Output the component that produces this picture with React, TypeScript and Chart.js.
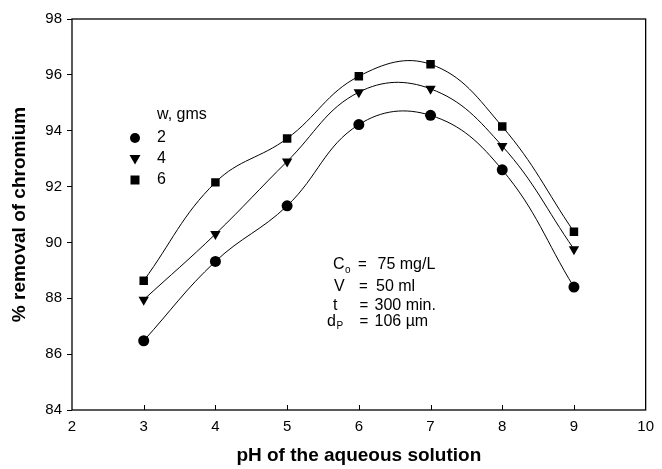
import React, { useEffect, useRef } from "react";
import { Chart, registerables } from "chart.js";

Chart.register(...registerables);

const phValues = [3, 4, 5, 6, 7, 8, 9];
const removalW2 = [86.48, 89.32, 91.31, 94.22, 94.55, 92.6, 88.4];
const removalW4 = [87.95, 90.3, 92.9, 95.38, 95.5, 93.45, 89.76];
const removalW6 = [88.63, 92.15, 93.72, 95.95, 96.38, 94.15, 90.38];

const seriesLabels = ["2", "4", "6"];
const legendTitle = "w, gms";
const annotationLines = [
  { main: "C", sub: "o", value: "75 mg/L" },
  { main: "V", sub: "", value: "50 ml" },
  { main: "t", sub: "", value: "300 min." },
  { main: "d", sub: "P", value: "106 \u00b5m" },
];
const xTitle = "pH of the aqueous solution";
const yTitle = "% removal of chromium";

const FONT = "'Liberation Sans', Arial, Helvetica, sans-serif";

function toPoints(ys: number[]) {
  return phValues.map((x, i) => ({ x, y: ys[i] }));
}

export default function App() {
  const canvasRef = useRef<HTMLCanvasElement | null>(null);

  useEffect(() => {
    const canvas = canvasRef.current;
    if (!canvas) return;

    const decorPlugin = {
      id: "decor",
      afterDraw(chart: any) {
        const ctx = chart.ctx;
        const area = chart.chartArea;
        const xs = chart.scales.x;
        ctx.save();
        // frame
        ctx.strokeStyle = "#000";
        ctx.lineWidth = 1.3;
        ctx.strokeRect(area.left, area.top, area.right - area.left, area.bottom - area.top);
        // inner x ticks
        ctx.lineWidth = 1;
        for (let v = 3; v <= 9; v++) {
          const px = Math.round(xs.getPixelForValue(v)) + 0.5;
          ctx.beginPath();
          ctx.moveTo(px, area.bottom);
          ctx.lineTo(px, area.bottom - 5);
          ctx.stroke();
        }
        // legend
        ctx.fillStyle = "#000";
        ctx.font = `16px ${FONT}`;
        ctx.textBaseline = "middle";
        ctx.textAlign = "left";
        const lx = 157;
        ctx.fillText(legendTitle, lx, 115);
        const rows = [138, 159, 180];
        chart.data.datasets.forEach((ds: any, i: number) => {
          ctx.fillText(seriesLabels[i], lx, rows[i]);
          const mx = 135;
          const my = rows[i];
          ctx.beginPath();
          if (ds.pointStyle === "circle") {
            ctx.arc(mx, my, 5, 0, Math.PI * 2);
          } else if (ds.pointStyle === "rect") {
            ctx.rect(mx - 4.5, my - 4.5, 9, 9);
          } else {
            ctx.moveTo(mx - 5.5, my - 4);
            ctx.lineTo(mx + 5.5, my - 4);
            ctx.lineTo(mx, my + 5.5);
            ctx.closePath();
          }
          ctx.fill();
        });
        // annotation
        const rowsA = [265, 287, 305.5, 321.5];
        const mainXs = [333, 334, 333, 327];
        const eqXs = [358, 359, 359.5, 359.5];
        const valXs = [377.5, 376, 374.5, 374.5];
        annotationLines.forEach((ln, i) => {
          const y = rowsA[i];
          ctx.font = `16px ${FONT}`;
          const mainX = mainXs[i];
          ctx.fillText(ln.main, mainX, y);
          if (ln.sub) {
            const w = ctx.measureText(ln.main).width;
            ctx.font = `10px ${FONT}`;
            ctx.fillText(ln.sub, mainX + w + 0.5, y + 5);
          }
          ctx.font = `15px ${FONT}`;
          ctx.fillText("=", eqXs[i], y);
          ctx.font = `16px ${FONT}`;
          ctx.fillText(ln.value, valXs[i], y);
        });
        ctx.restore();
      },
    };

    const common = {
      borderColor: "#000",
      backgroundColor: "#000",
      borderWidth: 1,
      pointBackgroundColor: "#000",
      pointBorderColor: "#000",
      pointBorderWidth: 0,
      tension: 0.4,
      showLine: true,
      fill: false,
    };

    const chart = new Chart(canvas, {
      type: "scatter",
      data: {
        datasets: [
          { ...common, label: seriesLabels[0], data: toPoints(removalW2), pointStyle: "circle", pointRadius: 5.5 },
          { ...common, label: seriesLabels[1], data: toPoints(removalW4), pointStyle: "triangle", pointRotation: 180, pointRadius: 6 },
          { ...common, label: seriesLabels[2], data: toPoints(removalW6), pointStyle: "rect", pointRadius: 6 },
        ],
      },
      plugins: [decorPlugin],
      options: {
        responsive: false,
        animation: false,
        events: [],
        layout: { padding: { left: 0, right: 10, top: 19, bottom: 0 } },
        plugins: { legend: { display: false }, tooltip: { enabled: false } },
        scales: {
          x: {
            type: "linear",
            min: 2,
            max: 10,
            afterFit: (s: any) => { s.height = 59; },
            ticks: { stepSize: 1, color: "#000", font: { family: FONT, size: 15 }, padding: 8 },
            grid: { drawOnChartArea: false, drawTicks: false },
            border: { display: false },
            title: { display: true, text: xTitle, color: "#000", font: { family: FONT, size: 19, weight: "bold" }, padding: { top: 0, bottom: 2 } },
          },
          y: {
            type: "linear",
            min: 84,
            max: 98,
            afterFit: (s: any) => { s.width = 72; },
            ticks: { stepSize: 2, color: "#000", font: { family: FONT, size: 15 }, padding: 5 },
            grid: { drawOnChartArea: false, drawTicks: true, tickLength: 5, tickColor: "#000", tickWidth: 1 },
            border: { display: false },
            title: { display: true, text: yTitle, color: "#000", font: { family: FONT, size: 19, weight: "bold" }, padding: { top: 8, bottom: 0 } },
          },
        },
      },
    } as any);

    return () => chart.destroy();
  }, []);

  return (
    <div style={{ position: "fixed", left: 0, top: 0, width: 662, height: 469, background: "#fff" }}>
      <canvas ref={canvasRef} width={662} height={469} style={{ display: "block", width: 662, height: 469 }} />
    </div>
  );
}
